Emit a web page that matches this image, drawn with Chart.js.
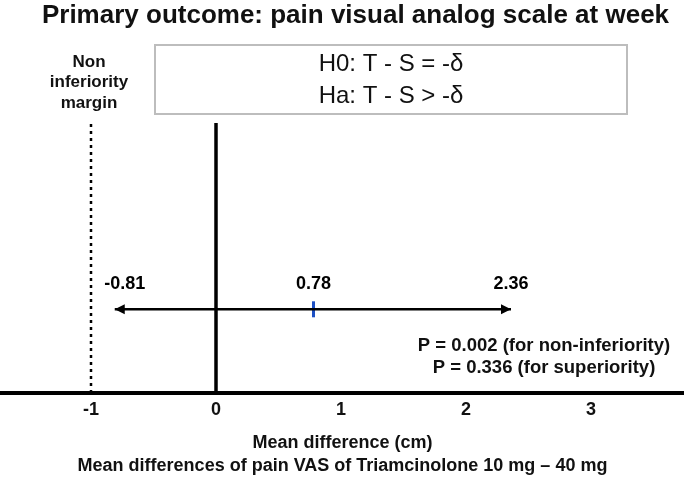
<!DOCTYPE html>
<html>
<head>
<meta charset="utf-8">
<script src="https://cdn.jsdelivr.net/npm/chart.js@4.4.0/dist/chart.umd.min.js"></script>
<style>
  html, body { margin: 0; padding: 0; background: #fff; }
  #wrap { width: 685px; height: 481px; }
</style>
</head>
<body>
<div id="wrap"><canvas id="chart"></canvas></div>
<script>
// values
const xTicks = [-1, 0, 1, 2, 3];
const marginValue = -1;            // non-inferiority margin
const ciBounds = [-0.81, 2.36];    // lower / upper end of the interval
const meanDiff = [0.78];
const ciLevel = 0.31;              // row of the interval (0 = axis, 1 = top of zero line)
const hypotheses = ['H0: T - S = -δ', 'Ha: T - S > -δ'];
const marginLabel = ['Non', 'inferiority', 'margin'];
const pValues = ['P = 0.002 (for non-inferiority)', 'P = 0.336 (for superiority)'];
const titleText = 'Primary outcome: pain visual analog scale at week';
const xTitle = ['Mean difference (cm)', 'Mean differences of pain VAS of Triamcinolone 10 mg – 40 mg'];

const FONT = "'Liberation Sans', Arial, sans-serif";

// arrow heads, value labels and the text boxes
const annotations = {
    id: 'annotations',
    afterLayout(chart) {
        // the title sits a little right of centre in the original
        chart.titleBlock.left += 13;
        chart.titleBlock.right += 13;
    },
    afterDatasetsDraw(chart) {
        const ctx = chart.ctx;
        const xs = chart.scales.x, ys = chart.scales.y;
        const yRow = ys.getPixelForValue(ciLevel);

        // arrow heads at both ends of the interval
        ctx.save();
        ctx.fillStyle = '#000';
        ciBounds.forEach((v, i) => {
            const px = xs.getPixelForValue(v);
            const dir = i === 0 ? -1 : 1;
            ctx.beginPath();
            ctx.moveTo(px, yRow);
            ctx.lineTo(px - dir * 10, yRow - 5);
            ctx.lineTo(px - dir * 10, yRow + 5);
            ctx.closePath();
            ctx.fill();
        });

        // numbers above the interval
        ctx.font = 'bold 18px ' + FONT;
        ctx.textAlign = 'center';
        ctx.textBaseline = 'middle';
        [ciBounds[0], meanDiff[0], ciBounds[1]].forEach(v => {
            ctx.fillText(v.toFixed(2), xs.getPixelForValue(v) + (v < 0 ? 10 : 0), yRow - 25);
        });

        // hypothesis box
        ctx.fillStyle = '#fff';
        ctx.fillRect(155, 45, 472, 69);
        ctx.strokeStyle = '#bdbdbd';
        ctx.lineWidth = 2;
        ctx.strokeRect(155, 45, 472, 69);
        ctx.fillStyle = '#111';
        ctx.font = '24px ' + FONT;
        hypotheses.forEach((t, i) => ctx.fillText(t, 391, 64 + i * 32));

        // margin label
        ctx.font = 'bold 17px ' + FONT;
        const mx = xs.getPixelForValue(marginValue);
        marginLabel.forEach((t, i) => ctx.fillText(t, mx - 2, 62 + i * 20.5));

        // p values
        ctx.font = 'bold 18.5px ' + FONT;
        pValues.forEach((t, i) => ctx.fillText(t, 544, 346 + i * 22));
        ctx.restore();
    }
};

const ctx = document.getElementById('chart').getContext('2d');
const chart = new Chart(ctx, {
    type: 'scatter',
    data: {
        datasets: [
            {
                // zero line
                data: [{ x: 0, y: 0 }, { x: 0, y: 1 }],
                showLine: true,
                borderColor: '#000',
                borderWidth: 3.5,
                pointRadius: 0
            },
            {
                // non-inferiority margin
                data: [{ x: marginValue, y: 0 }, { x: marginValue, y: 1 }],
                showLine: true,
                borderColor: '#000',
                borderWidth: 2.5,
                borderDash: [3, 4],
                pointRadius: 0
            },
            {
                // interval
                data: ciBounds.map(v => ({ x: v, y: ciLevel })),
                showLine: true,
                borderColor: '#000',
                borderWidth: 2.5,
                pointRadius: 0
            },
            {
                // point estimate
                data: meanDiff.map(v => ({ x: v, y: ciLevel })),
                showLine: false,
                pointStyle: 'line',
                rotation: 90,
                pointRadius: 8,
                borderWidth: 3,
                borderColor: '#1c4fc4'
            }
        ]
    },
    options: {
        responsive: true,
        maintainAspectRatio: false,
        animation: false,
        layout: { autoPadding: false, padding: { left: 2, right: 2, top: 0, bottom: 0 } },
        clip: false,
        scales: {
            x: {
                type: 'linear',
                min: -1.712,
                max: 3.736,
                afterBuildTicks: scale => { scale.ticks = xTicks.map(v => ({ value: v })); },
                grid: { display: false, drawTicks: false },
                border: { display: true, color: '#000', width: 4 },
                ticks: {
                    color: '#111',
                    padding: 6,
                    font: { family: FONT, size: 18, weight: 'bold' }
                },
                title: {
                    display: true,
                    text: xTitle,
                    color: '#111',
                    font: { family: FONT, size: 18, weight: 'bold', lineHeight: 1.3 },
                    padding: { top: 4.3, bottom: 3.3 }
                }
            },
            y: { display: false, min: 0, max: 1 }
        },
        plugins: {
            legend: { display: false },
            tooltip: { enabled: false },
            title: {
                display: true,
                text: titleText,
                color: '#111',
                font: { family: FONT, size: 26, weight: 'bold' },
                padding: { top: 0, bottom: 91.8 }
            }
        }
    },
    plugins: [annotations]
});
</script>
</body>
</html>
